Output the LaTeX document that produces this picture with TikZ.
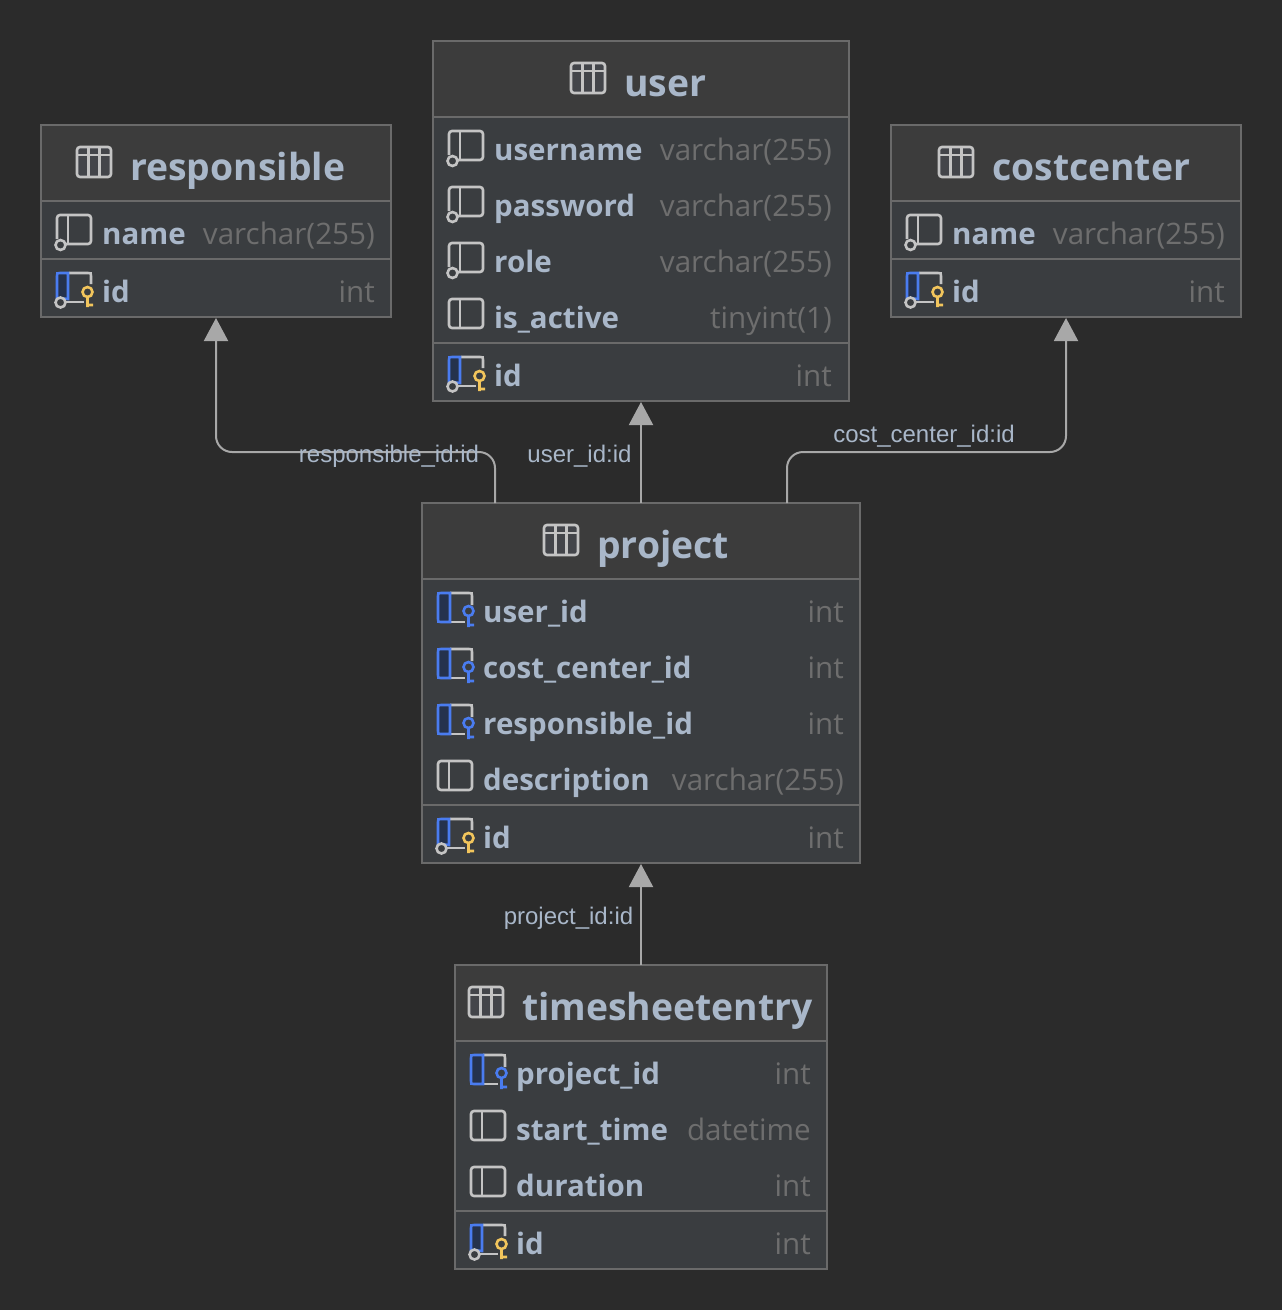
\documentclass[tikz,border=0pt]{standalone}
\usepackage{fontspec}
\setmainfont{Open Sans}
\newfontfamily\edgefont{Liberation Sans}
\usetikzlibrary{fit, arrows.meta}
\definecolor{canvasbg}{HTML}{2B2B2B}
\definecolor{headbg}{HTML}{3C3C3C}
\definecolor{bodybg}{HTML}{3A3D40}
\definecolor{frameclr}{HTML}{6A6A6A}
\definecolor{nameclr}{HTML}{A9B7C9}
\definecolor{typeclr}{HTML}{6E6E6E}
\definecolor{iconclr}{HTML}{C4C4C4}
\definecolor{cellclr}{HTML}{43454A}
\definecolor{fkclr}{HTML}{4A7CF0}
\definecolor{fkfill}{HTML}{25324D}
\definecolor{pkclr}{HTML}{F2C55C}
\definecolor{edgeclr}{HTML}{A8A8A8}
\tikzstyle{tablebox}  = [rectangle, draw=frameclr, line width=2pt, fill=bodybg, inner sep=0pt, outer sep=0pt]
\tikzstyle{tabletitle}= [anchor=base west, inner sep=0pt, text=nameclr, font=\fontsize{37.3}{44}\selectfont\bfseries]
\tikzstyle{colname}   = [anchor=base west, inner sep=0pt, text=nameclr, font=\fontsize{29.5}{36}\selectfont\bfseries]
\tikzstyle{coltype}   = [anchor=base east, inner sep=0pt, text=typeclr, font=\fontsize{29.6}{36}\selectfont]
\tikzstyle{edgelabel} = [inner sep=0pt, text=nameclr, font=\fontsize{24}{28}\selectfont\edgefont]
\tikzstyle{arrow}     = [line width=2pt, draw=edgeclr, rounded corners=16pt, xshift=0.5pt, -{Triangle[width=24pt,length=23pt,fill=edgeclr]}, shorten >=1pt]
\tikzset{
  iconline/.style={line width=2.6pt, draw=iconclr},
  tableicon/.pic={
    \draw [iconline, fill=cellclr, rounded corners=3pt] (0,0) rectangle (34,30);
    \draw [iconline] (0,8) -- (34,8) (11.5,0) -- (11.5,30) (22.5,0) -- (22.5,30);
  },
  colplain/.pic={
    \draw [iconline, rounded corners=3pt] (0,0) rectangle (34,29);
    \draw [iconline] (11,0) -- (11,29);
  },
  colnull/.pic={
    \draw [iconline, rounded corners=3pt] (0,24) -- (0,0) -- (34,0) -- (34,29) -- (8,29);
    \draw [iconline] (11,0) -- (11,29);
    \draw [iconline, fill=bodybg] (3.5,30) circle (5);
  },
  colfk/.pic={
    \draw [iconline] (12,0) -- (31,0) .. controls (34,0) .. (34,3) -- (34,12);
    \draw [iconline] (12,29) -- (27,29);
    \draw [line width=2.6pt, draw=fkclr, fill=fkfill] (12,0) -- (3,0) .. controls (0,0) .. (0,3) -- (0,26) .. controls (0,29) .. (3,29) -- (12,29) -- cycle;
    \draw [line width=2.6pt, draw=fkclr] (30.5,18) circle (5) (30.5,23) -- (30.5,34) (30.5,32) -- (36,32);
  },
  colpk/.pic={
    \draw [iconline] (12,0) -- (31,0) .. controls (34,0) .. (34,3) -- (34,11);
    \draw [iconline] (8,29) -- (27,29);
    \draw [line width=2.6pt, draw=fkclr, fill=fkfill] (11,26) -- (11,0) -- (3,0) .. controls (0,0) .. (0,3) -- (0,25) -- cycle;
    \draw [iconline, fill=bodybg] (3.5,29.5) circle (5);
    \draw [line width=2.6pt, draw=pkclr] (30.5,19) circle (5) (30.5,24) -- (30.5,34) (30.5,32) -- (36,32);
  }
}
% header band, divider lines and frame of one table
\newcommand{\dbtable}[7]{
  \node (#1) [tablebox, fit={(#2,#3) (#4,#5)}] {};
  \fill [headbg] (#2,#3) rectangle (#4,#6);
  \draw [line width=2pt, draw=frameclr] (#2,#3) rectangle (#4,#5);
  \draw [line width=2pt, draw=frameclr] (#2,#6) -- (#4,#6);
  \draw [line width=2pt, draw=frameclr] (#2,#7) -- (#4,#7);
}
\begin{document}
\begin{tikzpicture}[x=1pt, y=-1pt]
    \useasboundingbox [fill=canvasbg] (0,0) rectangle (1282,1310);

    % user
    \dbtable{user}{433}{41}{849}{401}{117}{343}
    \pic at (571,63) {tableicon};
    \node (usertitle) [tabletitle] at (624,96) {user};
    \foreach \rowy/\rowicon/\rowname/\rowtype in {149/colnull/username/varchar(255), 205/colnull/password/varchar(255), 261/colnull/role/varchar(255), 317/colplain/is\_active/tinyint(1), 375/colpk/id/int} {
      \pic at (449,\rowy-18) {\rowicon};
      \node (username\rowy) [colname] at (494,\rowy+11) {\rowname};
      \node (usertype\rowy) [coltype] at (832,\rowy+11) {\rowtype};
    }

    % responsible
    \dbtable{responsible}{41}{125}{391}{317}{201}{259}
    \pic at (77,147) {tableicon};
    \node (responsibletitle) [tabletitle] at (130,180) {responsible};
    \foreach \rowy/\rowicon/\rowname/\rowtype in {233/colnull/name/varchar(255), 291/colpk/id/int} {
      \pic at (57,\rowy-18) {\rowicon};
      \node (responsiblename\rowy) [colname] at (102,\rowy+11) {\rowname};
      \node (responsibletype\rowy) [coltype] at (375,\rowy+11) {\rowtype};
    }

    % costcenter
    \dbtable{costcenter}{891}{125}{1241}{317}{201}{259}
    \pic at (939,147) {tableicon};
    \node (costcentertitle) [tabletitle] at (992,180) {costcenter};
    \foreach \rowy/\rowicon/\rowname/\rowtype in {233/colnull/name/varchar(255), 291/colpk/id/int} {
      \pic at (907,\rowy-18) {\rowicon};
      \node (costcentername\rowy) [colname] at (952,\rowy+11) {\rowname};
      \node (costcentertype\rowy) [coltype] at (1225,\rowy+11) {\rowtype};
    }

    % project
    \dbtable{project}{422}{503}{860}{863}{579}{805}
    \pic at (544,525) {tableicon};
    \node (projecttitle) [tabletitle] at (597,558) {project};
    \foreach \rowy/\rowicon/\rowname/\rowtype in {611/colfk/user\_id/int, 667/colfk/cost\_center\_id/int, 723/colfk/responsible\_id/int, 779/colplain/description/varchar(255), 837/colpk/id/int} {
      \pic at (438,\rowy-18) {\rowicon};
      \node (projectname\rowy) [colname] at (483,\rowy+11) {\rowname};
      \node (projecttype\rowy) [coltype] at (844,\rowy+11) {\rowtype};
    }

    % timesheetentry
    \dbtable{timesheetentry}{455}{965}{827}{1269}{1041}{1211}
    \pic at (469,987) {tableicon};
    \node (timesheettitle) [tabletitle] at (522,1020) {timesheetentry};
    \foreach \rowy/\rowicon/\rowname/\rowtype in {1073/colfk/project\_id/int, 1129/colplain/start\_time/datetime, 1185/colplain/duration/int, 1243/colpk/id/int} {
      \pic at (471,\rowy-18) {\rowicon};
      \node (timesheetname\rowy) [colname] at (516,\rowy+11) {\rowname};
      \node (timesheettype\rowy) [coltype] at (811,\rowy+11) {\rowtype};
    }

    \coordinate (respfoot) at (495,503);
    \coordinate (respmid)  at (350,452);
    \coordinate (costfoot) at (787,503);
    \coordinate (costmid)  at (900,452);

    \draw [arrow] (respfoot) |- (respmid) -| (responsible.south);
    \draw [arrow] (project.north) -- (user.south);
    \draw [arrow] (costfoot) |- (costmid) -| (costcenter.south);
    \draw [arrow] (timesheetentry.north) -- (project.south);

    \node (resplabel)    [edgelabel] at (389,456) {responsible\_id:id};
    \node (userlabel)    [edgelabel] at (579.5,456) {user\_id:id};
    \node (costlabel)    [edgelabel] at (924,436) {cost\_center\_id:id};
    \node (projectlabel) [edgelabel] at (568.5,918) {project\_id:id};
\end{tikzpicture}
\end{document}
